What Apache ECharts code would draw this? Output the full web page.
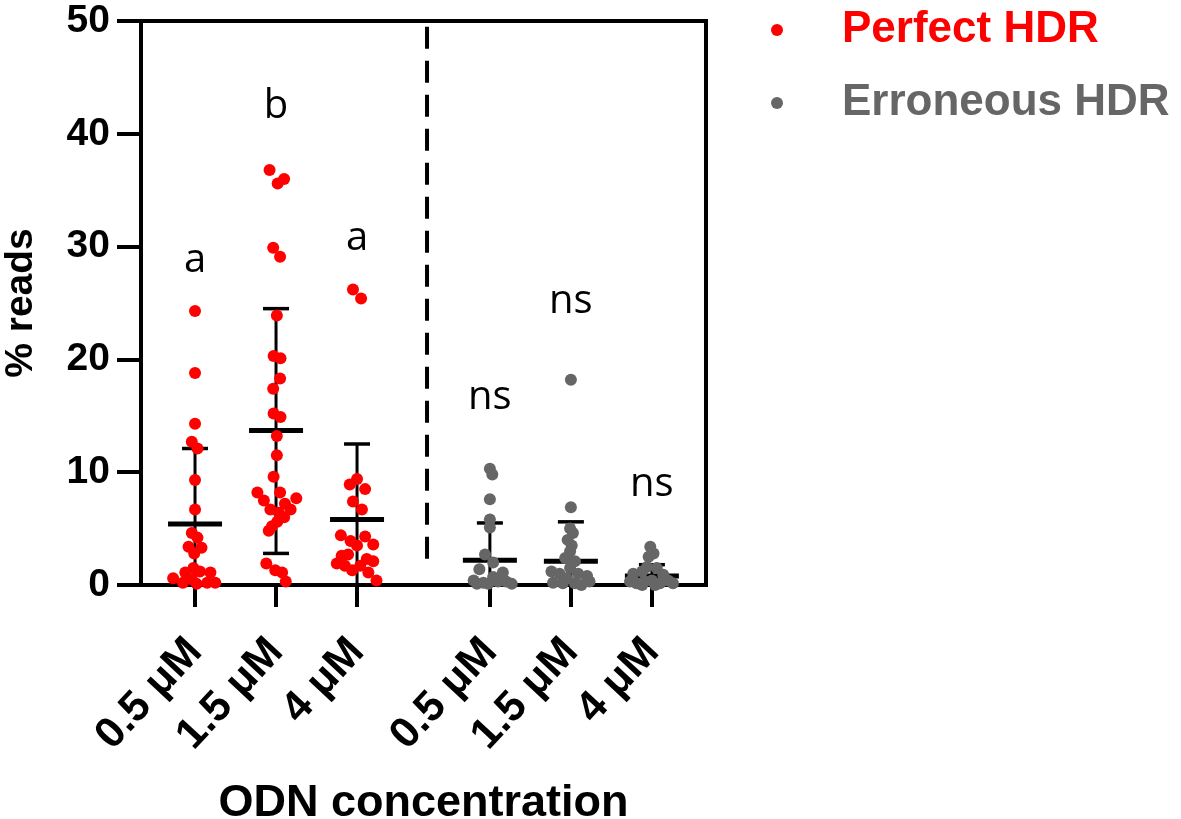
<!DOCTYPE html>
<html><head><meta charset="utf-8">
<script src="https://cdn.jsdelivr.net/npm/echarts@6/dist/echarts.min.js"></script>
<style>html,body{margin:0;padding:0;background:#fff}#c{width:1181px;height:819px}</style>
</head><body><div id="c"></div>
<script>
// ---- data ----
const tickLabels = ['0.5 μM','1.5 μM','4 μM','0.5 μM','1.5 μM','4 μM'];
const groupPos = [1, 2, 3, 4.64, 5.64, 6.64];
const dividerX = 3.864;

const perfect05Y = [24.3,18.8,14.3,12.7,12.1,9.3,6.7,4.6,4.2,3.4,3.3,2.8,1.5,1.2,1.1,1.1,0.6,0.5,0.2,0.2,0.2,0.1];
const perfect05J = [0,0,0,-0.04,0.03,0,0,-0.04,0.03,-0.08,0.08,-0.01,-0.02,0.06,0.19,-0.12,-0.27,-0.04,0.15,0.25,-0.15,0.02];
const perfect15Y = [36.8,36.0,35.6,29.9,29.1,23.9,20.3,20.1,18.3,17.4,15.2,14.9,13.2,11.5,9.6,8.2,8.2,7.7,7.5,7.2,6.7,6.7,6.4,6.0,5.6,5.2,4.8,1.9,1.3,1.1,0.3];
const perfect15J = [-0.08,0.1,0.02,-0.035,0.05,0.01,-0.03,0.055,0.05,-0.035,-0.03,0.055,0.01,0.01,-0.03,0.05,-0.23,0.25,-0.15,0.11,-0.07,0.18,0.035,0.1,0.015,-0.05,-0.09,-0.12,-0.01,0.075,0.12];
const perfect4Y = [26.2,25.4,9.4,8.9,8.5,7.4,6.7,4.4,3.9,4.3,3.6,3.5,2.6,2.7,2.3,2.1,1.9,1.7,1.7,1.3,1.1,0.4];
const perfect4J = [-0.05,0.05,0,-0.09,0.1,-0.05,0.06,-0.2,-0.08,0.1,0.2,0,-0.19,-0.11,0.12,0.2,-0.25,-0.15,0.04,-0.06,0.14,0.24];

const err05Y = [10.3,9.8,7.6,5.8,5.1,2.7,2.0,1.4,1.1,0.4,0.2,0.7,0.3,0.1,0.1,0.3,0.1];
const err05J = [0,0.03,0,0,0,-0.06,0.04,-0.13,0.16,-0.2,-0.08,0.04,0.2,0.27,-0.02,0.1,-0.16];
const err15Y = [18.2,6.9,5.0,4.6,4.0,3.5,3.0,2.4,2.1,1.5,1.2,1.0,1.0,0.8,0.2,0.15,0.15,0.3,0.6,0.0];
const err15J = [0,0,-0.01,0.025,-0.04,0.01,-0.01,-0.07,0.05,-0.01,-0.24,-0.14,0.09,0.2,-0.22,-0.1,0.05,0.23,-0.05,0.13];
const err4Y = [3.4,2.8,2.5,1.6,1.5,1.0,1.2,0.9,0.3,0.15,0.4,0.3,0.15,0.4,0.15,0.0,0.0];
const err4J = [-0.02,0.02,-0.04,-0.06,0.06,-0.23,-0.12,0.14,-0.27,-0.19,0,-0.09,0.1,0.2,0.26,0.04,-0.12];

const groupMean = [5.4, 13.7, 5.8, 2.2, 2.1, 0.8];
const groupSdHigh = [12.1, 24.5, 12.5, 5.5, 5.6, 1.8];
const groupSdLow = [0, 2.8, 0, 0, 0, 0];

const annotText = ['a','b','a','ns','ns','ns'];
const annotY = [28.8, 42.4, 30.7, 16.6, 25.1, 8.9];

// ---- build ----
function pts(pos, ys, js){ return ys.map((y,i)=>[pos + js[i], y]); }
const perfectData = [].concat(
  pts(groupPos[0], perfect05Y, perfect05J),
  pts(groupPos[1], perfect15Y, perfect15J),
  pts(groupPos[2], perfect4Y, perfect4J));
const errData = [].concat(
  pts(groupPos[3], err05Y, err05J),
  pts(groupPos[4], err15Y, err15J),
  pts(groupPos[5], err4Y, err4J));
const barData = groupPos.map((p,i)=>[p, groupMean[i], groupSdLow[i], groupSdHigh[i]]);
const annotData = groupPos.map((p,i)=>({value:[p, annotY[i]], name: annotText[i]}));

const RED = '#ff0000', GRAY = '#666666';
const FONT = '"Liberation Sans", Arial, sans-serif';

const chart = echarts.init(document.getElementById('c'), null, {renderer:'canvas'});
chart.setOption({
  animation: false,
  grid: {left: 141, right: 475, top: 21, bottom: 234, show: true, borderColor: '#000', borderWidth: 4,
         backgroundColor: 'transparent', containLabel: false, outerBoundsMode: 'none'},
  legend: {
    orient: 'vertical', left: 766, top: 3, itemWidth: 12, itemHeight: 12, itemGap: 29,
    icon: 'circle',
    textStyle: {fontFamily: FONT, fontWeight: 'bold', fontSize: 44, lineHeight: 44, padding: [0,0,0,54]},
    data: [
      {name: 'Perfect HDR', textStyle: {color: RED}},
      {name: 'Erroneous HDR', textStyle: {color: GRAY}}
    ]
  },
  xAxis: {
    type: 'value', min: 0.333, max: 7.308,
    name: 'ODN concentration', nameLocation: 'middle', nameGap: 196,
    nameTextStyle: {fontFamily: FONT, fontWeight: 'bold', fontSize: 45, color: '#000'},
    axisLine: {onZero: false, lineStyle: {color: '#000', width: 4}},
    axisTick: {show: true, customValues: groupPos, length: 22, lineStyle: {color: '#000', width: 4}},
    axisLabel: {customValues: groupPos, rotate: 47, margin: 60, fontFamily: FONT, fontWeight: 'bold', fontSize: 43, color: '#000',
      formatter: v => { const i = groupPos.findIndex(p => Math.abs(p - v) < 1e-6); return i >= 0 ? tickLabels[i] : ''; }},
    splitLine: {show: false}
  },
  yAxis: {
    type: 'value', min: 0, max: 50, interval: 10,
    name: '% reads', nameLocation: 'middle', nameGap: 100, nameRotate: 90,
    nameTextStyle: {fontFamily: FONT, fontWeight: 'bold', fontSize: 39, color: '#000'},
    axisLine: {show: true, lineStyle: {color: '#000', width: 4}},
    axisTick: {show: true, length: 24, lineStyle: {color: '#000', width: 4}},
    axisLabel: {margin: 31, fontFamily: FONT, fontWeight: 'bold', fontSize: 39, color: '#000'},
    splitLine: {show: false}
  },
  series: [
    {
      name: 'divider', type: 'line', data: [[dividerX, 49.5], [dividerX, 2.2]],
      symbol: 'none', silent: true, z: 1,
      lineStyle: {color: '#000', width: 4, type: [22, 12]}
    },
    {
      name: 'bars', type: 'custom', z: 2, silent: true,
      data: barData,
      renderItem: function(params, api){
        const x = api.value(0), m = api.value(1), lo = api.value(2), hi = api.value(3);
        const pm = api.coord([x, m]), ph = api.coord([x, hi]), pl = api.coord([x, Math.max(lo, 0)]);
        const children = [
          {type:'line', shape:{x1:pm[0], y1:pl[1], x2:pm[0], y2:ph[1]}, style:{stroke:'#000', lineWidth:3}},
          {type:'line', shape:{x1:ph[0]-13, y1:ph[1], x2:ph[0]+13, y2:ph[1]}, style:{stroke:'#000', lineWidth:3.5}},
          {type:'line', shape:{x1:pm[0]-27, y1:pm[1], x2:pm[0]+27, y2:pm[1]}, style:{stroke:'#000', lineWidth:5}}
        ];
        if (lo > 0) children.push({type:'line', shape:{x1:pl[0]-13, y1:pl[1], x2:pl[0]+13, y2:pl[1]}, style:{stroke:'#000', lineWidth:3.5}});
        return {type:'group', children};
      }
    },
    {
      name: 'Perfect HDR', type: 'scatter', data: perfectData, symbol: 'circle', symbolSize: 12, z: 3,
      itemStyle: {color: RED, opacity: 1}
    },
    {
      name: 'Erroneous HDR', type: 'scatter', data: errData, symbol: 'circle', symbolSize: 12, z: 3,
      itemStyle: {color: GRAY, opacity: 1}
    },
    {
      name: 'annot', type: 'scatter', data: annotData, symbolSize: 0, silent: true, z: 4,
      label: {show: true, position: 'inside', formatter: p => p.name, fontFamily: '"Open Sans", sans-serif', fontSize: 40,
              color: '#000', opacity: 1, textBorderWidth: 0}
    }
  ]
});
</script>
</body></html>
